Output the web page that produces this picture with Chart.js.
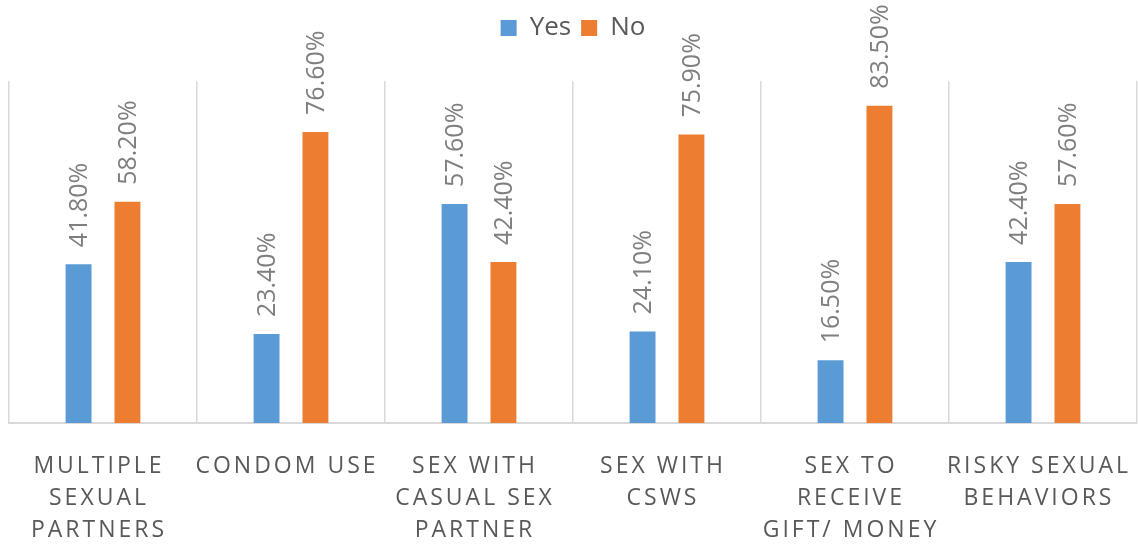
<!DOCTYPE html>
<html>
<head>
<meta charset="utf-8">
<script src="https://cdn.jsdelivr.net/npm/chart.js@4"></script>
<style>
  html, body { margin: 0; padding: 0; background: #fff; }
  #wrap { width: 1138px; height: 546px; }
</style>
</head>
<body>
<div id="wrap"><canvas id="barChart"></canvas></div>
<script>
// data
const categories = [
  ['MULTIPLE', 'SEXUAL', 'PARTNERS'],
  ['CONDOM USE'],
  ['SEX WITH', 'CASUAL SEX', 'PARTNER'],
  ['SEX WITH', 'CSWS'],
  ['SEX TO', 'RECEIVE', 'GIFT/ MONEY'],
  ['RISKY SEXUAL', 'BEHAVIORS'],
];
const yesValues = [41.8, 23.4, 57.6, 24.1, 16.5, 42.4];
const noValues = [58.2, 76.6, 42.4, 75.9, 83.5, 57.6];
const seriesNames = ['Yes', 'No'];

const font = "'Open Sans', sans-serif";

// push the plot area down below the legend
const legendGap = {
  id: 'legendGap',
  beforeInit(chart) {
    const fit = chart.legend.fit;
    chart.legend.fit = function () {
      fit.bind(chart.legend)();
      this.height += 30;
    };
  },
};

// rotated value labels above bars
const valueLabels = {
  id: 'valueLabels',
  afterDatasetsDraw(chart) {
    const ctx = chart.ctx;
    ctx.save();
    ctx.font = '25px ' + font;
    ctx.fillStyle = '#7f7f7f';
    ctx.textAlign = 'left';
    ctx.textBaseline = 'middle';
    chart.data.datasets.forEach(function (ds, i) {
      chart.getDatasetMeta(i).data.forEach(function (bar, j) {
        ctx.save();
        ctx.translate(bar.x, bar.y - 17);
        ctx.rotate(-Math.PI / 2);
        ctx.fillText(ds.data[j].toFixed(2) + '%', 0, 1);
        ctx.restore();
      });
    });
    ctx.restore();
  },
};

// spaced category labels under the axis
const categoryLabels = {
  id: 'categoryLabels',
  afterDraw(chart) {
    const ctx = chart.ctx;
    const xScale = chart.scales.x;
    ctx.save();
    ctx.font = '23px ' + font;
    ctx.fillStyle = '#595959';
    ctx.textAlign = 'center';
    ctx.textBaseline = 'middle';
    ctx.letterSpacing = '3px';
    categories.forEach(function (lines, i) {
      const x = xScale.getPixelForValue(i) - 4;
      lines.forEach(function (line, k) {
        ctx.fillText(line, x, chart.chartArea.bottom + 43 + k * 32);
      });
    });
    ctx.restore();
  },
};

new Chart(document.getElementById('barChart'), {
  type: 'bar',
  data: {
    labels: categories.map(function (c) { return c.join(' '); }),
    datasets: [
      {
        label: seriesNames[0],
        data: yesValues,
        backgroundColor: '#5B9BD5',
      },
      {
        label: seriesNames[1],
        data: noValues,
        backgroundColor: '#ED7D31',
      },
    ],
  },
  options: {
    responsive: true,
    maintainAspectRatio: false,
    animation: false,
    categoryPercentage: 0.52,
    barPercentage: 0.53,
    layout: {
      padding: { left: 9, right: 1, top: 5, bottom: 123 },
    },
    plugins: {
      tooltip: { enabled: false },
      legend: {
        position: 'top',
        labels: {
          boxWidth: 16,
          boxHeight: 16,
          padding: 10,
          color: '#595959',
          font: { family: font, size: 26 },
        },
      },
    },
    scales: {
      x: {
        grid: {
          color: '#d9d9d9',
          lineWidth: 1.5,
          drawTicks: false,
        },
        border: { color: '#d9d9d9', width: 2 },
        ticks: { display: false },
      },
      y: {
        display: false,
        min: 0,
        max: 90,
      },
    },
  },
  plugins: [legendGap, valueLabels, categoryLabels],
});
</script>
</body>
</html>
